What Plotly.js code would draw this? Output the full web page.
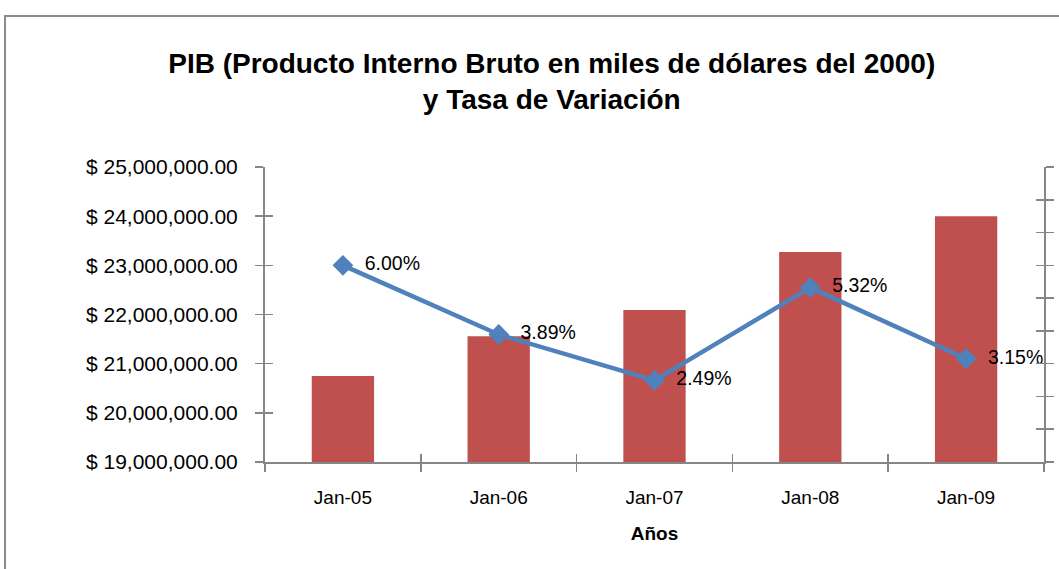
<!DOCTYPE html>
<html>
<head>
<meta charset="utf-8">
<script src="https://cdn.plot.ly/plotly-3.0.1.min.js"></script>
<style>
  html, body { margin: 0; padding: 0; background: #ffffff; overflow: hidden; }
  #frame { position: absolute; left: 4px; top: 15px; width: 2000px; height: 2000px;
           border-left: 2px solid #8c8c8c; border-top: 2px solid #8c8c8c; pointer-events: none; }
  #chart { position: absolute; left: 0; top: 0; width: 1059px; height: 569px; }
</style>
</head>
<body>
<div id="chart"></div>
<div id="frame"></div>
<script>
const categories = ["Jan-05", "Jan-06", "Jan-07", "Jan-08", "Jan-09"];
const pibValues = [20750000, 21560000, 22090000, 23270000, 24000000];
const tasaValues = [0.0600, 0.0389, 0.0249, 0.0532, 0.0315];
const yLeftTickVals = [19000000, 20000000, 21000000, 22000000, 23000000, 24000000, 25000000];
const yLeftTickText = ["$ 19,000,000.00", "$ 20,000,000.00", "$ 21,000,000.00", "$ 22,000,000.00",
                       "$ 23,000,000.00", "$ 24,000,000.00", "$ 25,000,000.00"];
const titleText = "PIB (Producto Interno Bruto en miles de dólares del 2000)<br>y Tasa de Variación";
const xTitleText = "Años";

const FONT = "Liberation Sans, Arial, sans-serif";
const AXC = "#868686";

const boundaries = [];
for (let i = 0; i <= categories.length; i++) boundaries.push(i - 0.5);

const traces = [
  {
    type: "bar", x: categories, y: pibValues, name: "PIB",
    marker: { color: "#C0504D" }, xaxis: "x", yaxis: "y", hoverinfo: "skip"
  },
  {
    type: "scatter", mode: "lines+markers+text", x: categories, y: tasaValues, name: "Tasa",
    xaxis: "x", yaxis: "y2",
    line: { color: "#4F81BD", width: 4.5 },
    marker: { symbol: "diamond", size: 16, color: "#4F81BD" },
    texttemplate: "\u00a0\u00a0%{y:.2%}", textposition: "middle right",
    textfont: { family: FONT, size: 19.5, color: "#000000" },
    cliponaxis: false, hoverinfo: "skip"
  },
  // invisible helper traces so the tick-only overlay axes get drawn
  { type: "scatter", mode: "none", x: [categories[0]], y: [null], xaxis: "x", yaxis: "y3", hoverinfo: "skip", showlegend: false },
  { type: "scatter", mode: "none", x: [categories[0]], y: [null], xaxis: "x", yaxis: "y4", hoverinfo: "skip", showlegend: false },
  { type: "scatter", mode: "none", x: [0], y: [null], xaxis: "x2", yaxis: "y", hoverinfo: "skip", showlegend: false }
];

const layout = {
  width: 1059, height: 569,
  margin: { l: 265, r: 15, t: 167, b: 107, pad: 0 },
  paper_bgcolor: "rgba(0,0,0,0)", plot_bgcolor: "rgba(0,0,0,0)",
  showlegend: false,
  bargap: 0.6,
  font: { family: FONT, color: "#000000", size: 19 },
  title: {
    text: titleText, x: 0.521, xref: "container", xanchor: "center",
    y: 0.872, yref: "container", yanchor: "top",
    font: { family: FONT, size: 28, color: "#000000", weight: "bold" }
  },
  xaxis: {
    type: "category", range: [-0.5, 4.5], tickson: "boundaries",
    ticks: "outside", ticklen: 8, tickcolor: AXC, tickwidth: 1.5,
    showline: true, linecolor: AXC, linewidth: 2, showgrid: false, zeroline: false,
    tickfont: { family: FONT, size: 19, color: "#000000" },
    ticklabelstandoff: 17,
    title: { text: xTitleText, font: { family: FONT, size: 19, color: "#000000", weight: "bold" }, standoff: 20 }
  },
  xaxis2: {
    overlaying: "x", anchor: "y", type: "linear", range: [-0.5, 4.5],
    tickmode: "array", tickvals: boundaries, ticks: "inside", ticklen: 8, tickcolor: AXC, tickwidth: 1.5,
    showticklabels: false, showline: false, showgrid: false, zeroline: false
  },
  yaxis: {
    range: [19000000, 25000000], tickmode: "array", tickvals: yLeftTickVals, ticktext: yLeftTickText,
    ticks: "outside", ticklen: 8, tickcolor: AXC, tickwidth: 1.5,
    showline: true, linecolor: AXC, linewidth: 2, showgrid: false, zeroline: false,
    tickfont: { family: FONT, size: 21, color: "#000000" },
    ticklabelstandoff: 13
  },
  yaxis3: {
    overlaying: "y", anchor: "x", side: "left", range: [19000000, 25000000],
    tickmode: "array", tickvals: yLeftTickVals, ticks: "inside", ticklen: 8, tickcolor: AXC, tickwidth: 1.5,
    showticklabels: false, showline: false, showgrid: false, zeroline: false
  },
  yaxis2: {
    overlaying: "y", side: "right", anchor: "x", range: [0, 0.09], dtick: 0.01, tick0: 0,
    ticks: "outside", ticklen: 8, tickcolor: AXC, tickwidth: 1.5,
    showticklabels: false, showline: true, linecolor: AXC, linewidth: 2, showgrid: false, zeroline: false
  },
  yaxis4: {
    overlaying: "y", side: "right", anchor: "x", range: [0, 0.09], dtick: 0.01, tick0: 0,
    ticks: "inside", ticklen: 8, tickcolor: AXC, tickwidth: 1.5,
    showticklabels: false, showline: false, showgrid: false, zeroline: false
  }
};

Plotly.newPlot("chart", traces, layout, { displayModeBar: false, staticPlot: true });
</script>
</body>
</html>
